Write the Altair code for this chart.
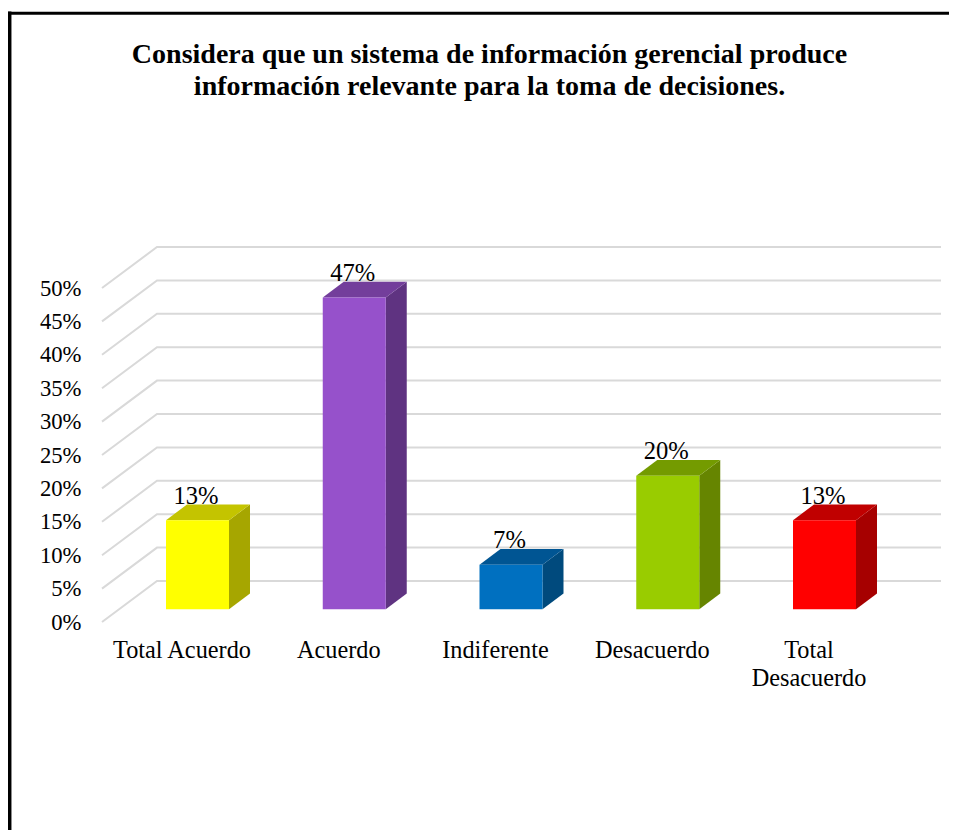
import altair as alt
import pandas as pd

categories = ["Total Acuerdo", "Acuerdo", "Indiferente", "Desacuerdo", "Total\nDesacuerdo"]
values = [0.1333, 0.4667, 0.0667, 0.20, 0.1333]
front_colors = ["#FFFF00", "#9651CB", "#0070C0", "#99CC00", "#FF0000"]
top_colors = ["#C4C400", "#733E9B", "#005593", "#749B00", "#C00000"]
side_colors = ["#A6A600", "#5F3381", "#004A7D", "#668500", "#A60000"]
ticks = [0, 0.05, 0.10, 0.15, 0.20, 0.25, 0.30, 0.35, 0.40, 0.45, 0.50]
title_lines = ["Considera que un sistema de información gerencial produce",
               "información relevante para la toma de decisiones."]

W, H = 941, 822
PX_X = 156.75      # px per category
PX_Y = 668.0       # px per 100 %
XD = [1 + (8 - 197.5) / PX_X, 1 + (8 + W - 197.5) / PX_X]
YD = [-(8 + H - 622) / PX_Y, (622 - 8) / PX_Y]

half = 31.5 / PX_X
bar_dx = 21 / PX_X
bar_dy = 15.8 / PX_Y
base = 12.7 / PX_Y
wall_dx = 55 / PX_X
wall_dy = 41 / PX_Y
grid_front = 1 + (102 - 197.5) / PX_X
grid_end = 1 + (941 - 197.5) / PX_X

font = "Liberation Serif"
x_scale = alt.Scale(domain=XD, nice=False, zero=False)
y_scale = alt.Scale(domain=YD, nice=False, zero=False)
y_axis = alt.Axis(values=ticks, format=".0%", orient="left", offset=-73, domain=False, ticks=False,
                  grid=False, labelPadding=0, labelFont=font, labelFontSize=22.7, labelColor="#000000",
                  title=None)
X = alt.X("x:Q", scale=x_scale, axis=None)
Y = alt.Y("y:Q", scale=y_scale, axis=y_axis, stack=None)

fronts, sides, tops, texts, cats = [], [], [], [], []
for i, (c, v) in enumerate(zip(categories, values)):
    k = i + 1
    x0, x1 = k - half, k + half
    t = base + v
    fronts.append(dict(x=x0, x2=x1, y=base, y2=t, c=front_colors[i]))
    sides += [dict(k=k, x=x1, y=base, y2=t, c=side_colors[i]),
              dict(k=k, x=x1 + bar_dx, y=base + bar_dy, y2=t + bar_dy, c=side_colors[i])]
    tops += [dict(k=k, x=x0, y=t, y2=t, c=top_colors[i]),
             dict(k=k, x=x0 + bar_dx, y=t, y2=t + bar_dy, c=top_colors[i]),
             dict(k=k, x=x1, y=t, y2=t + bar_dy, c=top_colors[i]),
             dict(k=k, x=x1 + bar_dx, y=t + bar_dy, y2=t + bar_dy, c=top_colors[i])]
    texts.append(dict(x=k - 1.5 / PX_X, y=t + bar_dy + 0.8 / PX_Y, v=v))
    cats.append(dict(x=k - 15.5 / PX_X, y=-36 / PX_Y, c=c))

grid = []
for t in ticks:
    grid += [dict(t=t, x=grid_front, y=t),
             dict(t=t, x=grid_front + wall_dx, y=t + wall_dy),
             dict(t=t, x=grid_end, y=t + wall_dy)]

grid_layer = alt.Chart(pd.DataFrame(grid)).mark_line(color="#D9D9D9", strokeWidth=2).encode(
    x=X, y=Y, detail="t:N", order=alt.Order("x:Q"))

side_layer = alt.Chart(pd.DataFrame(sides)).mark_area().encode(
    x=X, y=Y, y2="y2:Q", detail="k:N", color=alt.Color("c:N", scale=None))
top_layer = alt.Chart(pd.DataFrame(tops)).mark_area().encode(
    x=X, y=Y, y2="y2:Q", detail="k:N", color=alt.Color("c:N", scale=None))
front_layer = alt.Chart(pd.DataFrame(fronts)).mark_rect().encode(
    x=X, x2="x2:Q", y=Y, y2="y2:Q", color=alt.Color("c:N", scale=None))

value_layer = alt.Chart(pd.DataFrame(texts)).mark_text(
    font=font, fontSize=24.6, color="#000000", baseline="alphabetic", align="center").encode(
    x=X, y=Y, text=alt.Text("v:Q", format=".0%"))

cat_layer = alt.Chart(pd.DataFrame(cats)).mark_text(
    font=font, fontSize=24.3, color="#000000", baseline="alphabetic", align="center",
    lineBreak="\n", lineHeight=28).encode(x=X, y=Y, text="c:N")

left_rule = alt.Chart(pd.DataFrame({"a": [0]})).mark_rule(color="#000000", strokeWidth=3.5).encode(
    x=alt.value(1.7), y=alt.value(3.5), y2=alt.value(H))
top_rule = alt.Chart(pd.DataFrame({"a": [0]})).mark_rule(color="#000000", strokeWidth=3).encode(
    y=alt.value(5.2), x=alt.value(0), x2=alt.value(W))

chart = alt.layer(
    grid_layer, side_layer, top_layer, front_layer, value_layer, cat_layer, left_rule, top_rule
).properties(
    width=W, height=H, padding=0, autosize=alt.AutoSizeParams(type="none"),
    title=alt.Title(title_lines, font=font, fontSize=28, fontWeight="bold", color="#000000",
                    anchor="middle", frame="group", baseline="top", lineHeight=31.5, dx=11, dy=92.5, offset=0),
).configure_view(stroke=None)

chart.save("out.html", embed_options={"renderer": "svg", "actions": False})
